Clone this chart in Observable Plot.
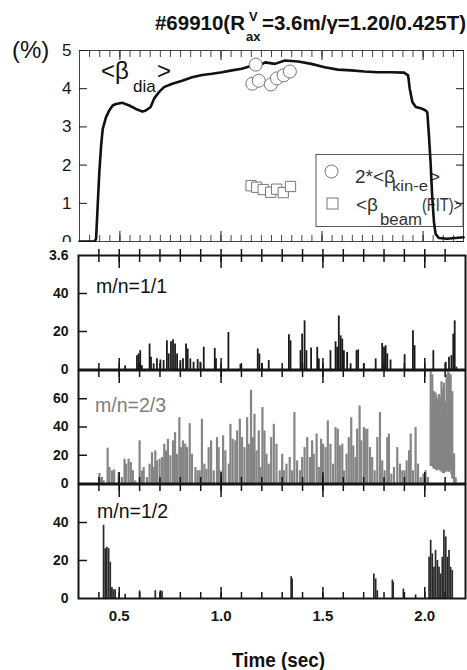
<!DOCTYPE html>
<html><head><meta charset="utf-8">
<script src="https://cdn.jsdelivr.net/npm/d3@7"></script>
<script src="https://cdn.jsdelivr.net/npm/@observablehq/plot@0.6"></script>
<style>
body{margin:0;background:#fff;}
#wrap{position:relative;width:467px;height:670px;overflow:hidden;background:#fff;}
#wrap > svg{position:absolute;left:0;}
</style></head><body><div id="wrap"></div>
<script>
// ---------- data (time in s) ----------
const betaDia = [
 [0.300,0.00],[0.374,0.00],[0.382,0.07],[0.390,0.94],[0.398,1.81],[0.407,2.51],[0.415,2.95],
 [0.431,3.25],[0.447,3.43],[0.464,3.56],[0.480,3.60],[0.513,3.63],[0.546,3.56],[0.579,3.47],
 [0.612,3.40],[0.628,3.43],[0.652,3.52],[0.669,3.74],[0.693,3.91],[0.718,4.04],[0.759,4.13],
 [0.808,4.21],[0.857,4.30],[0.907,4.36],[0.956,4.39],[1.005,4.43],[1.054,4.48],[1.103,4.52],
 [1.144,4.59],[1.169,4.54],[1.218,4.69],[1.267,4.65],[1.316,4.74],[1.382,4.71],[1.447,4.65],
 [1.513,4.56],[1.578,4.50],[1.644,4.48],[1.709,4.45],[1.775,4.43],[1.841,4.43],[1.906,4.42],
 [1.926,4.35],[1.934,4.00],[1.947,3.65],[1.964,3.52],[1.988,3.49],[2.013,3.43],[2.021,3.38],
 [2.029,2.77],[2.037,2.08],[2.045,1.20],[2.054,0.50],[2.062,0.20],[2.078,0.09],[2.119,0.07],[2.200,0.11]
];
const betaKinE = [[1.172,4.63],[1.155,4.13],[1.187,4.21],[1.247,4.11],[1.277,4.27],[1.310,4.35],[1.341,4.45]];
const betaBeam = [[1.149,1.46],[1.177,1.42],[1.209,1.36],[1.246,1.29],[1.275,1.37],[1.308,1.28],[1.344,1.44]];

const mode11 = [
 [0.529,1.9],[0.587,7.3],[0.595,8.2],[0.603,9.9],[0.611,2],[0.649,13.4],[0.656,6.4],[0.669,3],
 [0.685,5.6],[0.702,5],[0.718,4.7],[0.734,15.1],[0.743,8.2],[0.754,14.6],[0.764,15.7],[0.774,13.4],
 [0.784,8.2],[0.800,4.7],[0.813,5.6],[0.828,13.4],[0.836,10.8],[0.849,5.6],[0.865,3.8],[0.885,5.2],
 [0.898,3.8],[0.915,11.7],[0.969,11.1],[0.975,5.6],[1.036,19.5],[1.095,2.6],[1.180,10.8],[1.188,8.2],
 [1.201,3],[1.234,4.7],[1.333,18.3],[1.341,15.1],[1.390,9.9],[1.398,18.6],[1.410,25.6],[1.419,9.9],
 [1.442,11.3],[1.472,11.7],[1.480,5.6],[1.537,9.9],[1.562,14.6],[1.570,11.7],[1.578,28.2],[1.587,17.7],
 [1.595,16],[1.603,9.9],[1.619,9],[1.636,3],[1.665,9.9],[1.673,10.3],[1.701,3],[1.759,5.6],
 [1.791,13.7],[1.800,11.7],[1.808,12.5],[1.816,8.2],[1.832,5],[1.901,7.8],[1.942,20.4],[1.950,12.5],
 [2.042,9.9],[2.103,3.8],[2.119,6.4],[2.131,7.3],[2.140,18.6],[2.147,25.6],[2.155,1.2]
];
// m/n=2/3 : [time, low, high]
const mode23 = [
 [0.403,0,7.1],[0.407,0,3.1],[0.415,0,4.2],[0.423,0,1.9],[0.443,0,25.0],[0.452,0,11.3],[0.464,0,8.9],
 [0.475,0,9.6],[0.497,0,7.8],[0.513,0,4.2],[0.526,0,17.2],[0.534,0,13.7],[0.546,0,17.2],[0.557,0,14.9],
 [0.567,0,9.0],[0.579,0,1.9],[0.600,0,30.2],[0.611,0,8.9],[0.620,0,11.3],[0.636,0,4.2],[0.649,0,13.7],
 [0.661,0,21.9],[0.669,0,11.3],[0.677,0,23.1],[0.685,0,16.0],[0.698,0,17.2],[0.710,0,18.4],[0.721,0,27.8],
 [0.729,0,23.1],[0.739,0,31.3],[0.751,0,19.6],[0.764,0,30.2],[0.774,0,36.0],[0.784,0,20.7],[0.795,0,46.6],
 [0.803,0,25.4],[0.813,0,30.2],[0.824,0,27.8],[0.833,0,25.4],[0.846,0,42.4],[0.857,0,20.7],[0.874,0,11.3],
 [0.885,0,9.0],[0.895,0,9.0],[0.906,0,45.5],[0.918,0,13.7],[0.928,0,10.1],[0.939,0,25.4],[0.951,0,30.2],
 [0.964,0,9.0],[0.980,0,32.5],[0.988,0,25.4],[0.997,0,9.0],[1.010,0,33.7],[1.021,0,23.1],[1.038,0,13.7],
 [1.046,0,41.9],[1.057,0,31.3],[1.070,0,30.2],[1.079,0,37.2],[1.092,0,45.5],[1.103,0,32.5],[1.115,0,25.4],
 [1.128,0,46.6],[1.136,0,27.8],[1.147,0,66.0],[1.157,0,32.5],[1.164,0,49.0],[1.174,0,23.1],[1.185,0,37.2],
 [1.193,0,11.3],[1.203,0,53.7],[1.213,0,37.2],[1.223,0,20.7],[1.234,0,13.7],[1.246,0,32.5],[1.259,0,41.9],
 [1.272,0,27.8],[1.288,0,9.0],[1.300,0,20.7],[1.308,0,9.0],[1.321,0,13.7],[1.337,0,18.4],[1.349,0,9.0],
 [1.360,0,50.2],[1.373,0,16.0],[1.387,0,9.0],[1.398,0,18.4],[1.410,0,25.4],[1.423,0,32.5],[1.436,0,18.4],
 [1.447,0,30.2],[1.455,0,20.7],[1.469,0,35.0],[1.480,0,11.3],[1.491,0,31.3],[1.501,0,27.8],[1.513,0,25.4],
 [1.524,0,44.3],[1.537,0,27.8],[1.550,0,13.7],[1.562,0,39.6],[1.573,0,38.4],[1.583,0,26.6],[1.595,0,27.8],
 [1.603,0,9.0],[1.616,0,20.7],[1.627,0,32.5],[1.639,0,46.6],[1.649,0,26.6],[1.660,0,18.4],[1.668,0,38.4],
 [1.680,0,54.9],[1.688,0,30.2],[1.701,0,39.6],[1.709,0,38.4],[1.718,0,38.4],[1.731,0,25.4],[1.742,0,18.4],
 [1.754,0,9.0],[1.767,0,32.5],[1.780,0,50.2],[1.791,0,16.0],[1.803,0,9.0],[1.816,0,32.5],[1.824,0,35.0],
 [1.836,0,6.6],[1.849,0,11.3],[1.865,0,25.4],[1.878,0,13.7],[1.890,0,9.0],[1.901,0,9.0],[1.911,0,16.0],
 [1.923,0,23.1],[1.931,0,35.0],[1.942,0,9.0],[1.955,0,39.6],[1.967,0,13.7],[1.980,0,4.2],[1.993,0,6.6],
 [2.004,0,9.0],[2.016,0,4.2],
 [2.029,12,79],[2.033,12,53],[2.037,12,77],[2.041,11,51],[2.045,10,65],[2.049,10,64],[2.053,10,64],
 [2.057,9,62],[2.062,9,57],[2.066,10,60],[2.070,10,63],[2.074,9,55],[2.078,9,61],[2.082,8,72],
 [2.086,8,56],[2.090,7,67],[2.094,7,71],[2.098,8,53],[2.103,8,58],[2.107,9,77],[2.111,9,51],
 [2.115,8,79],[2.119,8,78],[2.123,9,41],[2.127,10,77],[2.131,6,60],[2.135,3,65],[2.144,0,21],[2.152,0,4]
];
const mode12 = [
 [0.423,38.5],[0.431,26.2],[0.439,27],[0.448,26.2],[0.456,19.1],[0.464,5.8],[0.472,4.6],[0.480,4.6],
 [0.529,2.3],[0.600,4],[0.677,4.1],[0.702,4.1],[0.710,3.7],[1.344,11.5],[1.349,10.3],[1.750,12.9],
 [1.759,10.3],[1.767,4.1],[1.841,9.7],[1.845,8.5],[1.895,5],[1.955,1.9],[2.021,21.7],[2.029,30.6],
 [2.037,23.5],[2.045,16.4],[2.053,25.3],[2.062,20],[2.070,16.4],[2.078,12.9],[2.086,21.7],[2.094,35.9],
 [2.103,32.4],[2.111,21.7],[2.119,25.3],[2.127,16.4],[2.135,14.7]
];

// ---------- axes / ticks ----------
const timeDomain = [0.3, 2.2];
const timeTickLabels = [0.5, 1.0, 1.5, 2.0];
const timeMinorSpike = d3.range(4, 22).map(i => +(i * 0.1).toFixed(2));
const timeMinorTop = d3.range(7, 44).map(i => +(i * 0.05).toFixed(2));
const betaTicks = [0, 1, 2, 3, 4, 5];
const p11Ticks = [0, 20, 40, 60], p11Labels = ["0", "20", "40", "3.6"];
const p23Ticks = [0, 20, 40, 60];
const p12Ticks = [0, 20, 40];

const FONT = "'Liberation Sans', Arial, sans-serif";
const INK = "#161616";
const wrap = document.getElementById("wrap");
function place(svg, top, z) { svg.style.top = top + "px"; svg.style.zIndex = z; wrap.appendChild(svg); }
const blank = () => "";

// ---------- legend (under the beta line) ----------
const ns = "http://www.w3.org/2000/svg";
function overlay(html, z) {
  const s = document.createElementNS(ns, "svg");
  s.setAttribute("width", 467); s.setAttribute("height", 670);
  s.style.top = "0px"; s.style.zIndex = z; s.style.pointerEvents = "none";
  s.setAttribute("font-family", FONT);
  s.innerHTML = html; wrap.appendChild(s);
}
overlay(`
 <rect x="316" y="154.5" width="147" height="72" fill="none" stroke="#555" stroke-width="1"/>
 <circle cx="331.5" cy="171.5" r="6.5" fill="none" stroke="#777" stroke-width="1"/>
 <rect x="327" y="198" width="11" height="11" fill="none" stroke="#777" stroke-width="1"/>
 <g fill="#333">
  <text x="355" y="183" font-size="19">2*&lt;β</text>
  <text x="392" y="191" font-size="15" textLength="36" lengthAdjust="spacingAndGlyphs">kin-e</text>
  <text x="429" y="183" font-size="19">&gt;</text>
  <text x="356" y="211" font-size="19">&lt;β</text>
  <text x="380" y="225" font-size="16" textLength="42" lengthAdjust="spacingAndGlyphs">beam</text>
  <text x="422" y="211" font-size="19" textLength="40" lengthAdjust="spacingAndGlyphs">(FIT)&gt;</text>
 </g>`, 1);

// ---------- top panel ----------
const pt = (a) => a.map(([t, v]) => ({t, v}));
const topPlot = Plot.plot({
  width: 467, height: 250,
  marginLeft: 79, marginRight: 4, marginTop: 50, marginBottom: 9,
  x: {domain: timeDomain, label: null},
  y: {domain: [0, 5], label: null},
  style: {background: "transparent", fontFamily: FONT, fontSize: "17px", color: INK, overflow: "visible"},
  marks: [
    Plot.frame({stroke: "#444", strokeWidth: 1}),
    Plot.axisY({ticks: betaTicks, tickSize: 0, tickPadding: 8, fontSize: 17, label: null, tickFormat: d3.format("d")}),
    Plot.axisY({anchor: "left", ticks: betaTicks, tickSize: -8, tickFormat: blank, label: null}),
    Plot.axisY({anchor: "right", ticks: betaTicks, tickSize: -8, tickFormat: blank, label: null}),
    Plot.axisX({anchor: "top", ticks: timeMinorTop, tickSize: -6, tickFormat: blank, label: null, strokeWidth: 0.8}),
    Plot.axisX({anchor: "top", ticks: timeTickLabels, tickSize: -9, tickFormat: blank, label: null}),
    Plot.axisX({anchor: "bottom", ticks: timeMinorTop, tickSize: -6, tickFormat: blank, label: null, strokeWidth: 0.8}),
    Plot.axisX({anchor: "bottom", ticks: timeTickLabels, tickSize: -10, tickFormat: blank, label: null}),
    Plot.line(pt(betaDia), {x: "t", y: "v", stroke: "#111", strokeWidth: 2.6, curve: "linear"}),
    Plot.dot(pt(betaKinE), {x: "t", y: "v", r: 6.5, stroke: "#777", fill: "white", strokeWidth: 1}),
    Plot.dot(pt(betaBeam), {x: "t", y: "v", symbol: "square", r: 5.8, stroke: "#777", fill: "white", strokeWidth: 1})
  ]
});
place(topPlot, 0, 2);

// ---------- spike panels ----------
function spikePanel({top, marginTop, plotH, marginBottom, yMax, ticks, labels, inner, data, color, width, z, bg, outerTop, xLabels}) {
  const marks = [
    Plot.ruleX(data, {x: "t", y1: "lo", y2: "hi", stroke: color, strokeWidth: width, clip: true}),
    Plot.frame({stroke: INK, strokeWidth: 2}),
    Plot.axisY({ticks, tickSize: 0, tickPadding: 10, fontWeight: "bold", fontSize: 14, label: null,
      tickFormat: labels ? (d) => labels[ticks.indexOf(d)] : (d) => String(d)}),
    Plot.axisY({anchor: "left", ticks: inner, tickSize: -9, tickFormat: blank, label: null, strokeWidth: 1.5}),
    Plot.axisX({anchor: "top", ticks: timeMinorSpike, tickSize: -6, tickFormat: blank, label: null, strokeWidth: 1.5}),
    Plot.axisX({anchor: "top", ticks: timeTickLabels, tickSize: -12, tickFormat: blank, label: null, strokeWidth: 1.5}),
    Plot.axisX({anchor: "bottom", ticks: timeMinorSpike, tickSize: -6, tickFormat: blank, label: null, strokeWidth: 1.5}),
    Plot.axisX({anchor: "bottom", ticks: timeTickLabels, tickSize: -11, tickFormat: blank, label: null, strokeWidth: 1.5})
  ];
  if (outerTop) marks.push(Plot.axisX({anchor: "top", ticks: timeMinorSpike, tickSize: 7, tickFormat: blank, label: null, strokeWidth: 1.5}));
  if (xLabels) marks.push(Plot.axisX({anchor: "bottom", ticks: timeTickLabels, tickSize: 0, tickPadding: 12,
     fontWeight: "bold", fontSize: 15, tickFormat: d3.format(".1f"), label: null}));
  const p = Plot.plot({
    width: 467, height: marginTop + plotH + marginBottom,
    marginLeft: 78, marginRight: 2, marginTop, marginBottom,
    x: {domain: timeDomain, label: null},
    y: {domain: [0, yMax], label: null},
    style: {background: bg, fontFamily: FONT, color: INK, overflow: "visible"},
    marks
  });
  place(p, top, z);
}
const rows = (a) => a.map((r) => r.length === 3 ? {t: r[0], lo: r[1], hi: r[2]} : {t: r[0], lo: 0, hi: r[1]});
spikePanel({top: 242, marginTop: 13, plotH: 114, marginBottom: 8, yMax: 60, ticks: p11Ticks, labels: p11Labels,
  inner: [20, 40], data: rows(mode11), color: "#1a1a1a", width: 1.8, z: 3, bg: "white", outerTop: true});
spikePanel({top: 360, marginTop: 10, plotH: 113, marginBottom: 8, yMax: 80, ticks: p23Ticks,
  inner: [20, 40, 60], data: rows(mode23), color: "#858585", width: 2.2, z: 4, bg: "transparent"});
spikePanel({top: 474, marginTop: 10, plotH: 114, marginBottom: 72, yMax: 60, ticks: p12Ticks,
  inner: [20, 40], data: rows(mode12), color: "#2a2a2a", width: 1.7, z: 5, bg: "transparent", xLabels: true});

// ---------- text overlay ----------
overlay(`
 <g font-weight="bold" fill="#111">
  <text x="245" y="30" font-size="20.5" text-anchor="end">#69910(R</text>
  <text x="249" y="21" font-size="13">V</text>
  <text x="246" y="41" font-size="13">ax</text>
  <text x="262" y="30" font-size="20.5">=3.6m/γ=1.20/0.425T)</text>
 </g>
 <text x="12" y="58" font-size="24" fill="#111">(%)</text>
 <g fill="#111">
  <text x="101" y="79" font-size="24">&lt;β</text>
  <text x="133" y="92" font-size="17">dia</text>
  <text x="157" y="79" font-size="24">&gt;</text>
  <text x="96" y="293" font-size="19.5">m/n=1/1</text>
  <text x="95" y="412" font-size="19.5" fill="#7d7d7d">m/n=2/3</text>
  <text x="97" y="518" font-size="19.5">m/n=1/2</text>
 </g>
 <text x="232" y="667" font-size="21" font-weight="bold" fill="#111" textLength="93" lengthAdjust="spacingAndGlyphs">Time (sec)</text>
`, 10);
</script></body></html>
